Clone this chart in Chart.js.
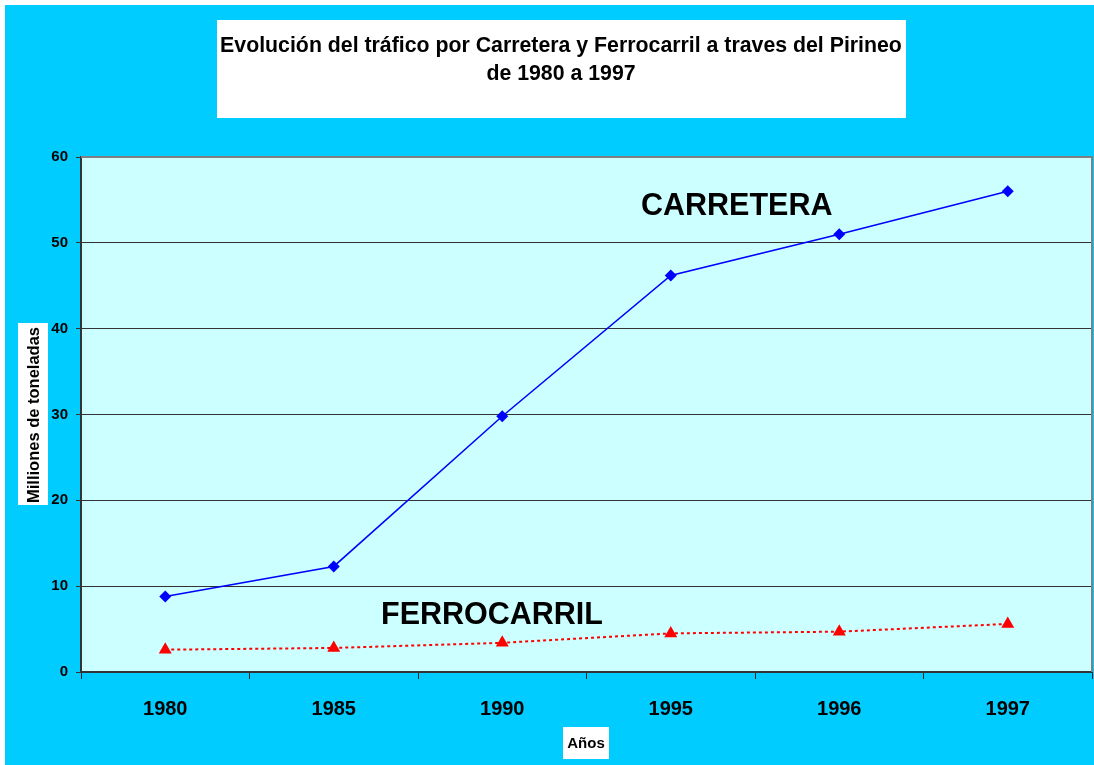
<!DOCTYPE html>
<html>
<head>
<meta charset="utf-8">
<script src="https://cdn.jsdelivr.net/npm/chart.js@4/dist/chart.umd.min.js"></script>
<style>
  html, body { margin: 0; padding: 0; background: #ffffff; }
  #wrap { position: relative; width: 1094px; height: 765px; }
  canvas { display: block; }
</style>
</head>
<body>
<div id="wrap"><canvas id="c" width="1094" height="765"></canvas></div>
<script>
// ---- Data ----
const categories = ['1980', '1985', '1990', '1995', '1996', '1997'];
const carretera = [8.8, 12.3, 29.8, 46.2, 51.0, 56.0];
const ferrocarril = [2.6, 2.8, 3.4, 4.5, 4.7, 5.6];
const titleLines = ['Evolución del tráfico por Carretera y Ferrocarril a traves del Pirineo', 'de 1980 a 1997'];
const yAxisTitle = 'Milliones de toneladas';
const xAxisTitle = 'Años';
const seriesLabels = ['CARRETERA', 'FERROCARRIL'];

const FONT = 'Arial, "Liberation Sans", sans-serif';

const decorPlugin = {
  id: 'decor',
  beforeDraw(chart) {
    const ctx = chart.ctx;
    const ca = chart.chartArea;
    ctx.save();
    ctx.fillStyle = '#ffffff';
    ctx.fillRect(0, 0, chart.width, chart.height);
    ctx.fillStyle = '#00CCFF';
    ctx.fillRect(5, 5, chart.width - 5, chart.height - 5);
    // plot area
    ctx.fillStyle = '#CCFFFF';
    ctx.fillRect(ca.left, ca.top, ca.right - ca.left, ca.bottom - ca.top);
    // title box
    ctx.fillStyle = '#ffffff';
    ctx.fillRect(217, 20, 689, 98);
    // y title box
    ctx.fillRect(18, 323, 30, 182);
    // x title box
    ctx.fillRect(563, 727, 46, 32);
    ctx.fillStyle = '#000000';
    ctx.textAlign = 'center';
    ctx.textBaseline = 'middle';
    ctx.font = 'bold 21.3px ' + FONT;
    ctx.fillText(titleLines[0], 561, 46);
    ctx.fillText(titleLines[1], 561, 74);
    ctx.font = 'bold 15px ' + FONT;
    ctx.fillText(xAxisTitle, 586, 744);
    ctx.save();
    ctx.translate(34, 415);
    ctx.rotate(-Math.PI / 2);
    ctx.font = 'bold 16.5px ' + FONT;
    ctx.fillText(yAxisTitle, 0, 0);
    ctx.restore();
    ctx.restore();
  },
  afterDraw(chart) {
    const ctx = chart.ctx;
    const ca = chart.chartArea;
    ctx.save();
    ctx.strokeStyle = '#808080';
    ctx.lineWidth = 2;
    ctx.beginPath();
    ctx.moveTo(ca.left, ca.top);
    ctx.lineTo(ca.right, ca.top);
    ctx.lineTo(ca.right, ca.bottom);
    ctx.stroke();
    ctx.fillStyle = '#000000';
    ctx.textAlign = 'left';
    ctx.textBaseline = 'middle';
    ctx.font = 'bold 30.5px ' + FONT;
    ctx.fillText(seriesLabels[0], 641, 207);
    ctx.fillText(seriesLabels[1], 381, 616);
    ctx.restore();
  }
};

const chart = new Chart(document.getElementById('c'), {
  type: 'line',
  data: {
    labels: categories,
    datasets: [
      {
        label: 'Carretera',
        data: carretera,
        borderColor: '#0000FF',
        backgroundColor: '#0000FF',
        borderWidth: 1.5,
        pointStyle: 'rectRot',
        pointRadius: 6,
        pointBorderWidth: 0,
        tension: 0
      },
      {
        label: 'Ferrocarril',
        data: ferrocarril,
        borderColor: '#FF0000',
        backgroundColor: '#FF0000',
        borderWidth: 2,
        borderDash: [3, 3],
        pointStyle: 'triangle',
        pointRadius: 7.5,
        pointBorderWidth: 0,
        tension: 0
      }
    ]
  },
  options: {
    responsive: false,
    animation: false,
    devicePixelRatio: 1,
    layout: { autoPadding: false, padding: { left: 0, top: 157, right: 2, bottom: 0 } },
    plugins: {
      legend: { display: false },
      title: { display: false },
      tooltip: { enabled: false }
    },
    scales: {
      x: {
        type: 'category',
        offset: true,
        afterFit(scale) {
          scale.height = 93;
          scale.paddingLeft = 0;
          scale.paddingRight = 0;
        },
        grid: {
          offset: true,
          drawOnChartArea: false,
          drawTicks: true,
          tickLength: 7,
          color: '#222222'
        },
        border: { display: true, color: '#333333', width: 2 },
        ticks: {
          color: '#000000',
          font: { family: FONT, size: 20, weight: 'bold' },
          padding: 18,
          maxRotation: 0
        }
      },
      y: {
        min: 0,
        max: 60,
        afterFit(scale) {
          scale.width = 81;
          scale.paddingTop = 0;
          scale.paddingBottom = 0;
        },
        grid: {
          color: '#333333',
          lineWidth: 1,
          drawTicks: true,
          tickLength: 5
        },
        border: { display: true, color: '#333333', width: 2 },
        ticks: {
          stepSize: 10,
          color: '#000000',
          font: { family: FONT, size: 15, weight: 'bold' },
          padding: 8
        }
      }
    }
  },
  plugins: [decorPlugin]
});
</script>
</body>
</html>
